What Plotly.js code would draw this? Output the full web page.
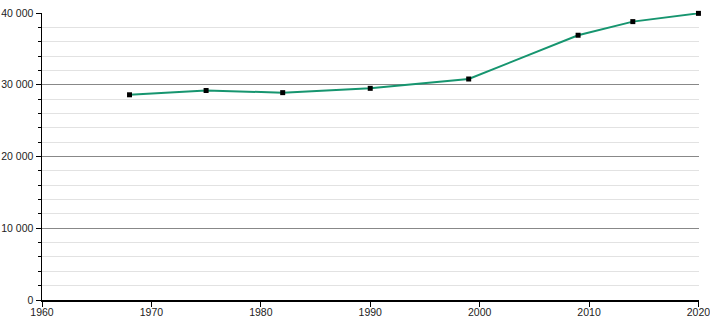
<!DOCTYPE html>
<html>
<head>
<meta charset="utf-8">
<script src="https://cdn.plot.ly/plotly-3.0.1.min.js"></script>
<style>html,body{margin:0;padding:0;background:#fff;}#chart{width:710px;height:320px;}</style>
</head>
<body>
<div id="chart"></div>
<script>
const years = [1968, 1975, 1982, 1990, 1999, 2009, 2014, 2020];
const population = [28600, 29200, 28900, 29500, 30800, 36900, 38800, 39950];
const xTicks = [1960, 1970, 1980, 1990, 2000, 2010, 2020];
const yTicks = [0, 10000, 20000, 30000, 40000];

const trace = {
  x: years,
  y: population,
  type: 'scatter',
  mode: 'lines+markers',
  line: {color: '#16956f', width: 2},
  marker: {color: '#000', size: 5, symbol: 'square'},
  cliponaxis: false,
  hoverinfo: 'x+y'
};

const layout = {
  width: 710, height: 320,
  margin: {l: 42, r: 11, t: 13, b: 20},
  paper_bgcolor: '#fff', plot_bgcolor: '#fff',
  separators: '. ',
  showlegend: false,
  font: {family: 'Liberation Sans, Arial, sans-serif', size: 10.5, color: '#222'},
  xaxis: {
    range: [1960, 2020.05],
    tickvals: xTicks,
    ticktext: xTicks.map(String),
    ticklabeloverflow: 'allow',
    ticklabelstandoff: -3,
    showgrid: false,
    zeroline: false,
    showline: true, linecolor: '#000', linewidth: 1.5,
    ticks: 'outside', ticklen: 5, tickcolor: '#000',
    fixedrange: true
  },
  yaxis: {
    range: [0, 40000],
    tickvals: yTicks,
    tickformat: ',.0f',
    ticklabeloverflow: 'allow',
    showgrid: true, gridcolor: '#888', gridwidth: 1,
    zeroline: false,
    showline: true, linecolor: '#000', linewidth: 1.5,
    ticks: 'outside', ticklen: 5, tickcolor: '#000',
    minor: {dtick: 2000, showgrid: true, gridcolor: '#e2e2e2', gridwidth: 1, ticks: 'outside', ticklen: 3, tickcolor: '#000'},
    fixedrange: true
  }
};

Plotly.newPlot('chart', [trace], layout, {displayModeBar: false, staticPlot: true});
</script>
</body>
</html>
